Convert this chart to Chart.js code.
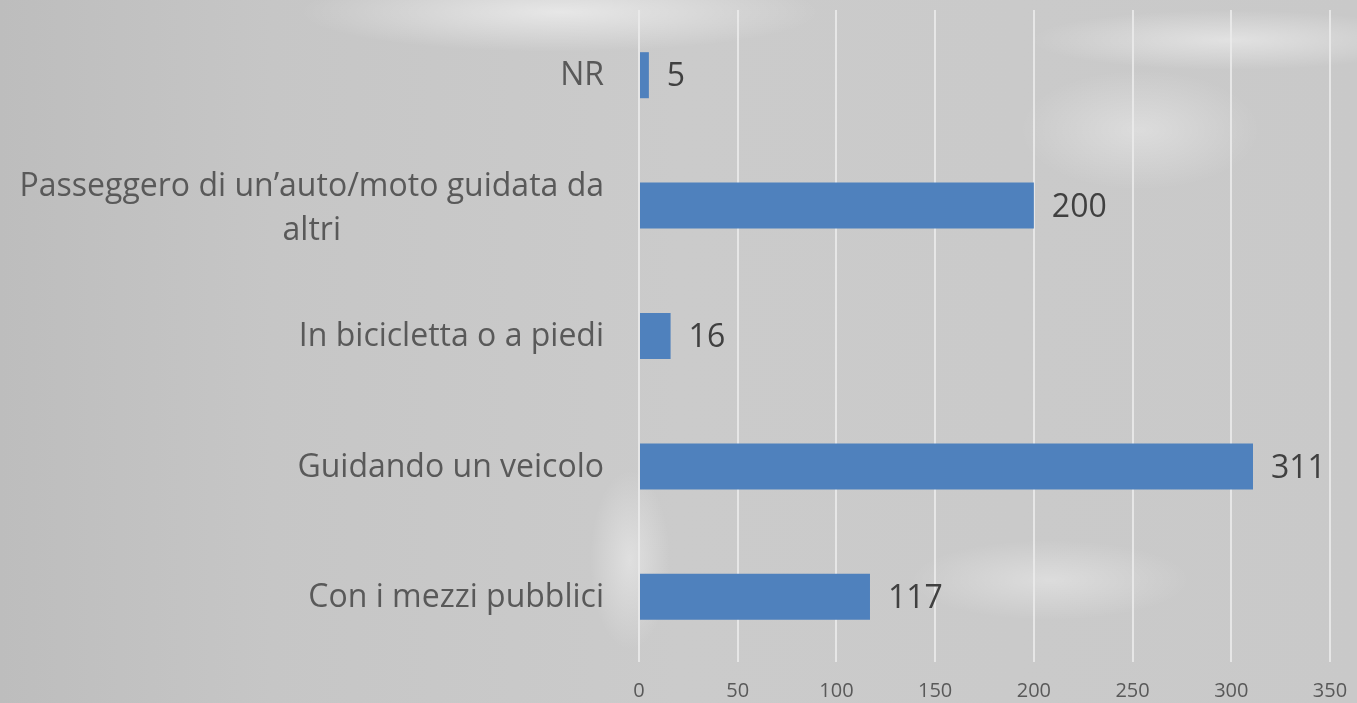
<!DOCTYPE html>
<html>
<head>
<meta charset="utf-8">
<script src="https://cdn.jsdelivr.net/npm/chart.js@4"></script>
<style>
  html, body { margin: 0; padding: 0; }
  body {
    width: 1357px; height: 703px; overflow: hidden;
    background:
      radial-gradient(ellipse 260px 40px at 560px 12px, rgba(255,255,255,0.55), rgba(255,255,255,0) 100%),
      radial-gradient(ellipse 200px 30px at 1230px 40px, rgba(255,255,255,0.45), rgba(255,255,255,0) 100%),
      radial-gradient(ellipse 120px 60px at 1140px 130px, rgba(255,255,255,0.35), rgba(255,255,255,0) 100%),
      radial-gradient(ellipse 140px 40px at 1050px 580px, rgba(255,255,255,0.35), rgba(255,255,255,0) 100%),
      radial-gradient(ellipse 40px 90px at 630px 560px, rgba(255,255,255,0.4), rgba(255,255,255,0) 100%),
      linear-gradient(90deg, #bdbdbd 0%, #c6c6c6 20%, #cbcbcb 50%, #c9c9c9 100%);
  }
  #wrap { position: relative; width: 1357px; height: 703px; }
</style>
</head>
<body>
<div id="wrap"><canvas id="chart"></canvas></div>
<script>
const categories = [
  "NR",
  ["Passeggero di un\u2019auto/moto guidata da", "altri"],
  "In bicicletta o a piedi",
  "Guidando un veicolo",
  "Con i mezzi pubblici"
];
const values = [5, 200, 16, 311, 117];
const xTicks = [0, 50, 100, 150, 200, 250, 300, 350];

const FONT = "'Open Sans', sans-serif";

const categoryLabels = {
  id: "categoryLabels",
  afterDraw(chart) {
    const ctx = chart.ctx;
    const y = chart.scales.y;
    ctx.save();
    ctx.font = "32px " + FONT;
    ctx.fillStyle = "#595959";
    ctx.textBaseline = "middle";
    ctx.textAlign = "center";
    const right = 604;
    const lineH = 44;
    categories.forEach((lab, i) => {
      const lines = Array.isArray(lab) ? lab : [lab];
      const w = Math.max(...lines.map(l => ctx.measureText(l).width));
      const cx = right - w / 2;
      const cy = y.getPixelForValue(i) + 1 - (lines.length - 1) * lineH / 2 + (lines.length - 1) * 2;
      lines.forEach((l, k) => ctx.fillText(l, cx, cy + k * lineH));
    });
    ctx.restore();
  }
};

const valueLabels = {
  id: "valueLabels",
  afterDatasetsDraw(chart) {
    const ctx = chart.ctx;
    const meta = chart.getDatasetMeta(0);
    ctx.save();
    ctx.font = "32px " + FONT;
    ctx.fillStyle = "#404040";
    ctx.textBaseline = "middle";
    ctx.textAlign = "left";
    meta.data.forEach((bar, i) => {
      ctx.fillText(String(values[i]), bar.x + 18, bar.y + 2);
    });
    ctx.restore();
  }
};

new Chart(document.getElementById("chart"), {
  type: "bar",
  data: {
    labels: categories.map(c => Array.isArray(c) ? c.join(" ") : c),
    datasets: [{
      data: values,
      backgroundColor: "#4f81bd",
      borderWidth: 0,
      categoryPercentage: 1,
      barPercentage: 0.353
    }]
  },
  options: {
    indexAxis: "y",
    responsive: true,
    maintainAspectRatio: false,
    animation: false,
    layout: { padding: { left: 639, right: 27, top: 10, bottom: 0 } },
    plugins: { legend: { display: false }, tooltip: { enabled: false } },
    scales: {
      y: { display: false },
      x: {
        min: 0, max: 350,
        afterBuildTicks(scale) { scale.ticks = xTicks.map(v => ({ value: v })); },
        afterFit(scale) { scale.height = 41; scale.paddingLeft = 0; scale.paddingRight = 0; },
        grid: { color: "rgba(235,235,235,0.85)", lineWidth: 2, drawTicks: false },
        border: { display: false },
        ticks: { color: "#595959", font: { family: FONT, size: 20 }, padding: 17 }
      }
    }
  },
  plugins: [categoryLabels, valueLabels]
});
</script>
</body>
</html>
